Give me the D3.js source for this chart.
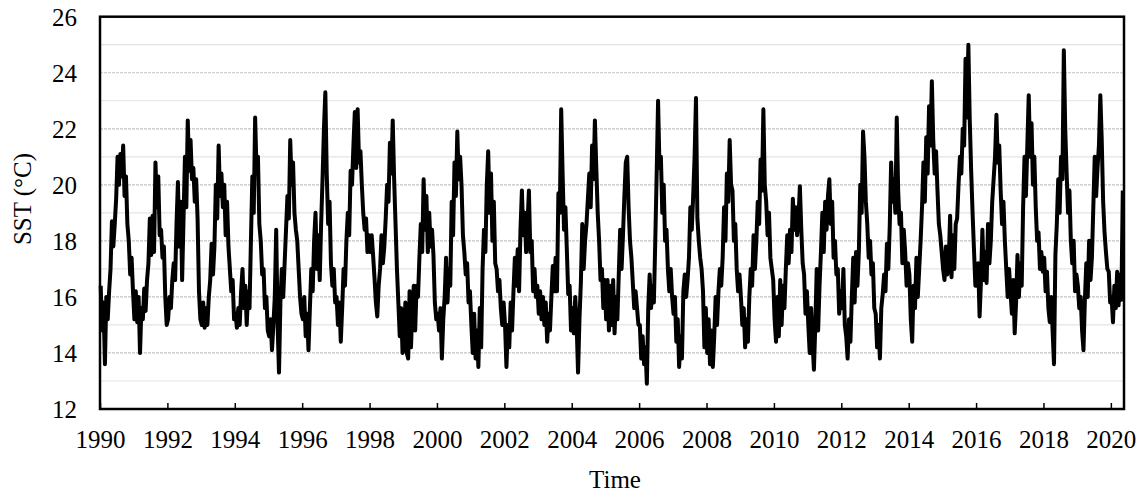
<!DOCTYPE html>
<html>
<head>
<meta charset="utf-8">
<script src="https://cdn.jsdelivr.net/npm/d3@7"></script>
<style>
  body { margin: 0; background: #fff; }
  text { font-family: "Liberation Serif", "Times New Roman", serif; fill: #000; }
</style>
</head>
<body>
<svg id="chart" width="1142" height="495"></svg>
<script>
// Sea surface temperature (°C), half-monthly values starting January 1990
const firstYear = 1990;
const stepsPerYear = 24;
const sst = [
  /* 1990 */ 16.4,14.8,15.8,13.6,16.0,15.2,16.2,17.0,18.7,17.8,18.6,19.5,21.0,20.0,21.1,20.3,21.4,19.6,20.3,18.6,18.0,16.8,17.4,16.2,
  /* 1991 */ 15.2,16.2,15.1,16.0,14.0,15.6,15.2,16.3,15.5,16.6,17.2,18.8,17.5,18.9,17.6,20.8,19.2,20.3,18.2,18.4,17.4,17.8,16.0,15.0,
  /* 1992 */ 15.2,16.0,15.6,16.6,17.2,16.6,18.6,20.1,17.8,19.4,16.6,18.8,21.0,19.2,22.3,20.5,21.6,20.2,20.6,19.4,20.2,18.8,16.2,15.2,
  /* 1993 */ 15.0,15.8,14.9,15.6,15.0,16.0,16.6,17.9,16.8,17.8,20.0,18.8,21.4,19.6,20.4,19.2,20.0,18.2,19.4,17.8,17.0,16.2,16.6,15.2,
  /* 1994 */ 15.4,14.9,15.6,15.0,16.2,17.0,15.6,16.4,15.0,16.2,15.6,18.0,20.3,19.0,22.4,20.5,21.0,18.6,18.0,16.8,17.0,15.6,16.0,14.8,
  /* 1995 */ 14.6,15.2,14.1,15.0,16.0,18.4,15.0,13.3,15.8,17.0,16.0,17.2,18.4,19.6,18.8,21.6,20.0,20.8,19.0,18.4,18.0,17.0,16.0,15.4,
  /* 1996 */ 15.2,16.0,14.6,15.4,14.1,15.6,17.0,16.2,18.0,19.0,17.0,18.2,16.6,18.6,20.2,22.0,23.3,20.4,18.6,19.4,17.2,16.4,17.0,15.8,
  /* 1997 */ 16.0,15.0,15.8,14.4,15.6,17.0,16.4,18.0,19.0,18.2,20.5,20.0,21.4,22.6,20.6,22.7,20.8,21.2,20.0,19.0,18.4,18.8,17.6,18.2,
  /* 1998 */ 17.6,18.2,17.5,16.7,15.8,15.3,16.4,17.0,18.2,17.2,17.8,18.8,20.0,19.4,21.5,20.4,22.3,20.2,18.6,17.0,15.8,14.6,15.6,14.0,
  /* 1999 */ 14.4,15.8,14.0,13.8,16.2,14.2,15.6,16.4,14.8,16.4,16.0,17.4,18.6,17.6,20.2,18.4,19.6,17.6,19.0,17.8,18.4,17.5,15.8,15.2,
  /* 2000 */ 15.4,14.8,15.6,13.8,15.2,16.0,17.4,15.8,17.0,16.4,19.4,18.2,20.8,19.6,21.9,20.2,21.0,20.0,18.2,17.6,16.8,17.2,15.8,16.2,
  /* 2001 */ 15.0,14.0,15.4,13.8,14.8,13.5,15.6,14.2,17.0,18.4,17.6,20.0,21.2,19.0,20.4,18.0,19.4,17.2,17.0,16.2,16.6,15.6,15.0,15.8,
  /* 2002 */ 15.0,13.5,15.0,14.2,15.8,14.8,16.2,17.4,16.4,17.7,16.2,18.4,19.8,18.2,19.0,17.6,18.6,19.8,17.6,18.0,16.2,17.0,16.0,16.4,
  /* 2003 */ 15.4,16.2,15.2,16.0,15.0,15.8,14.4,15.4,14.8,16.0,17.1,16.2,17.4,16.2,19.7,19.0,22.7,20.4,18.4,19.2,17.7,16.1,16.4,14.8,
  /* 2004 */ 15.6,14.7,16.0,15.0,13.3,15.2,16.5,18.6,17.0,18.0,18.6,19.5,20.4,19.2,21.4,20.2,22.3,20.6,19.0,18.0,16.6,17.0,15.6,16.6,
  /* 2005 */ 15.2,16.6,14.8,16.4,15.0,16.6,14.7,16.0,15.2,16.8,18.4,17.0,18.2,19.6,20.8,21.0,19.2,18.0,17.4,16.5,15.6,16.2,15.6,15.0,
  /* 2006 */ 15.0,13.8,14.6,13.6,14.2,12.9,15.6,16.8,15.6,16.4,15.8,18.0,20.4,23.0,20.6,21.0,19.0,20.0,18.0,18.4,17.0,16.2,17.0,16.0,
  /* 2007 */ 15.4,16.0,14.4,15.2,13.5,14.6,13.8,16.2,16.8,16.0,16.6,17.4,19.2,18.4,19.6,21.0,23.1,18.8,18.0,17.4,17.0,16.2,14.2,15.6,
  /* 2008 */ 14.0,15.2,13.6,14.8,13.5,14.6,16.0,15.0,16.2,17.0,16.4,17.4,19.2,18.0,20.4,19.4,21.6,20.0,19.8,18.0,18.6,17.0,16.2,16.8,
  /* 2009 */ 16.0,15.0,15.6,14.2,15.2,14.4,16.0,17.0,16.4,18.2,17.0,18.0,19.4,18.6,20.9,19.8,22.7,20.0,19.4,18.2,19.0,17.4,17.0,16.6,
  /* 2010 */ 15.2,14.4,16.0,14.6,16.6,15.0,16.4,15.6,17.0,18.2,17.2,18.4,17.6,19.5,18.4,19.2,18.2,18.8,19.95,18.4,17.2,16.8,15.4,16.2,
  /* 2011 */ 15.0,14.0,15.6,14.4,13.4,15.0,17.0,14.8,16.4,17.6,19.0,17.6,19.4,18.4,19.6,20.2,18.6,19.4,17.4,18.0,16.8,17.0,15.4,16.2,
  /* 2012 */ 15.6,17.0,15.0,14.6,13.8,15.2,14.4,16.0,17.4,15.8,17.6,16.4,17.6,20.0,19.0,21.9,21.0,19.4,18.6,17.4,18.0,16.8,17.2,15.6,
  /* 2013 */ 15.4,14.2,15.0,13.8,15.6,16.1,16.8,16.2,17.9,17.0,18.5,20.8,19.4,20.2,19.0,22.4,19.8,18.6,19.0,17.2,18.4,17.6,16.4,17.2,
  /* 2014 */ 16.8,15.2,14.4,16.4,15.6,17.4,16.0,17.0,18.0,19.2,20.8,19.4,21.7,20.4,22.8,21.4,23.7,21.6,20.4,21.2,19.8,18.6,18.2,17.6,
  /* 2015 */ 17.0,16.6,17.8,16.8,17.2,18.9,16.7,18.2,17.0,18.6,18.8,20.0,21.0,20.4,22.0,21.4,24.5,22.4,25.0,22.3,20.5,19.0,17.7,16.4,
  /* 2016 */ 16.4,17.2,15.3,16.6,18.4,16.6,17.6,16.5,18.6,17.2,18.0,19.4,20.2,21.0,22.5,20.8,21.4,19.8,18.6,19.4,18.0,17.0,16.0,17.0,
  /* 2017 */ 16.2,15.4,16.6,14.7,15.8,17.5,16.0,17.2,16.4,19.2,21.0,19.6,21.4,23.2,21.0,22.2,20.0,21.0,19.2,18.0,18.3,17.0,17.6,16.9,
  /* 2018 */ 17.4,16.2,16.9,15.6,15.1,16.0,14.8,13.6,17.5,18.6,20.2,19.0,21.0,20.2,24.8,22.0,20.4,19.0,19.8,18.0,17.2,18.0,16.2,16.8,
  /* 2019 */ 16.4,15.6,16.0,14.8,14.1,15.9,17.2,16.0,18.0,16.6,17.4,19.2,21.0,19.6,20.6,21.4,23.2,21.6,19.4,18.3,17.6,17.0,16.9,15.8,
  /* 2020 */ 16.0,15.1,16.4,15.6,16.9,15.7,16.8,15.9,19.8
];

const xTickYears = [1990, 1992, 1994, 1996, 1998, 2000, 2002, 2004, 2006, 2008, 2010, 2012, 2014, 2016, 2018, 2020];
const yTickValues = [12, 14, 16, 18, 20, 22, 24, 26];
const gridValues = [13, 14, 15, 16, 17, 18, 19, 20, 21, 22, 23, 24, 25];
const xDomain = [1990, 2020.39];
const yDomain = [12, 26];

const plot = { left: 100, right: 1124, top: 16.7, bottom: 409 };
const fontFamily = "'Liberation Serif', 'Times New Roman', serif";

const svg = d3.select("#chart");

const x = d3.scaleLinear().domain(xDomain).range([plot.left, plot.right]);
const y = d3.scaleLinear().domain(yDomain).range([plot.bottom, plot.top]);

const series = sst.map((v, k) => ({ t: firstYear + (k + 0.5) / stepsPerYear, v }));

// Horizontal gridlines every 1 °C
svg.append("g")
  .selectAll("line")
  .data(gridValues)
  .join("line")
  .attr("x1", plot.left)
  .attr("x2", plot.right)
  .attr("y1", d => y(d))
  .attr("y2", d => y(d))
  .attr("stroke", d => d % 2 === 0 ? "#c4c4c4" : "#e3e3e3")
  .attr("stroke-dasharray", d => d % 2 === 0 ? "3 1" : null)
  .attr("stroke-width", 1.2);

// SST line
const line = d3.line().x(d => x(d.t)).y(d => y(d.v));
svg.append("path")
  .datum(series)
  .attr("d", line)
  .attr("fill", "none")
  .attr("stroke", "#000")
  .attr("stroke-width", 4)
  .attr("stroke-linejoin", "round");

// X axis with inward ticks
const xAxis = svg.append("g")
  .attr("transform", `translate(0,${plot.bottom})`)
  .call(d3.axisBottom(x).tickValues(xTickYears).tickFormat(d3.format("d")).tickSize(-6).tickPadding(0));
xAxis.select(".domain").remove();
xAxis.selectAll(".tick line").attr("stroke", "#000").attr("stroke-width", 1.5);
xAxis.selectAll(".tick text")
  .attr("y", 39).attr("dy", null)
  .style("font-size", "25px")
  .style("font-family", fontFamily);

// Y axis labels
const yAxis = svg.append("g")
  .attr("transform", `translate(${plot.left},0)`)
  .call(d3.axisLeft(y).tickValues(yTickValues).tickFormat(d3.format("d")).tickSize(0).tickPadding(23));
yAxis.select(".domain").remove();
yAxis.selectAll(".tick text")
  .attr("dy", "0.34em")
  .style("font-size", "25px")
  .style("font-family", fontFamily);

// Plot frame
svg.append("rect")
  .attr("x", plot.left)
  .attr("y", plot.top)
  .attr("width", plot.right - plot.left)
  .attr("height", plot.bottom - plot.top)
  .attr("fill", "none")
  .attr("stroke", "#000")
  .attr("stroke-width", 2.5);

// Axis titles
svg.append("text")
  .attr("x", 615)
  .attr("y", 488)
  .attr("text-anchor", "middle")
  .style("font-size", "25px")
  .style("font-family", fontFamily)
  .text("Time");

svg.append("text")
  .attr("transform", "translate(31,199) rotate(-90)")
  .attr("text-anchor", "middle")
  .style("font-size", "25px")
  .style("font-family", fontFamily)
  .text("SST (°C)");
</script>
</body>
</html>
